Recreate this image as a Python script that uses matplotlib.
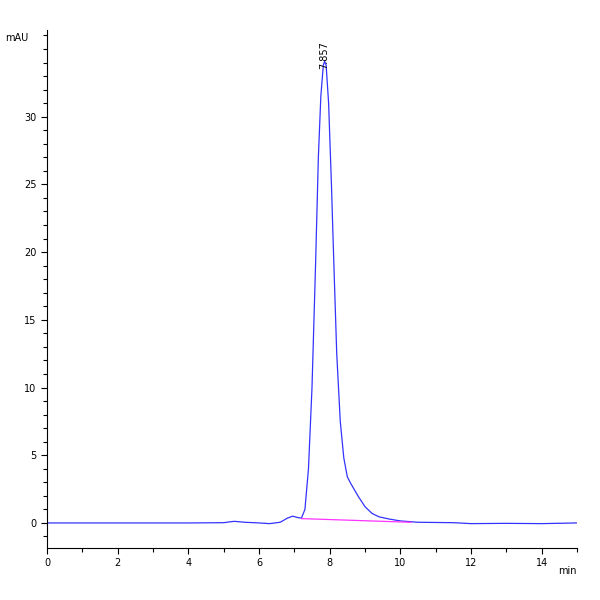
import matplotlib
matplotlib.use("Agg")
import matplotlib.pyplot as plt
from matplotlib.ticker import MultipleLocator

time = [0, 2, 4, 5.0, 5.3, 5.6, 6.0, 6.3, 6.6, 6.8, 6.95, 7.1, 7.2, 7.3, 7.4, 7.5, 7.6, 7.68, 7.75, 7.82, 7.857,
        7.9, 7.97, 8.05, 8.12, 8.2, 8.3, 8.4, 8.5, 8.6, 8.8, 9.0, 9.2, 9.4, 9.7, 10.0, 10.5, 11.5, 12, 13, 14, 15]
signal = [0, 0, 0, 0.02, 0.12, 0.05, 0.0, -0.05, 0.05, 0.35, 0.5, 0.4, 0.35, 1.0, 4, 10, 19, 27, 31.5, 33.8, 34.1,
          33.8, 31, 25, 19, 12.5, 7.5, 4.8, 3.4, 2.9, 2.0, 1.2, 0.7, 0.45, 0.28, 0.15, 0.05, 0.02, -0.05, -0.03, -0.05, 0]
base_t = [7.2, 10.3]
base_y = [0.32, 0.05]
peak_t, peak_y = 7.857, 34.1

fig = plt.figure(figsize=(6, 6), dpi=100)
ax = fig.add_axes([47/600, 1-548/600, 530/600, 518/600])
ax.plot(time, signal, color="#3333ff", lw=0.9)
ax.plot(base_t, base_y, color="#ff33ff", lw=0.9)
ax.text(peak_t, peak_y - 0.6, "7.857", rotation=90, ha="center", va="bottom", fontsize=7)
ax.set_xlim(0, 15)
ax.set_ylim(-1.85, 36.4)
for s in ["top", "right"]:
    ax.spines[s].set_visible(False)
ax.xaxis.set_major_locator(MultipleLocator(2))
ax.xaxis.set_minor_locator(MultipleLocator(1))
ax.yaxis.set_major_locator(MultipleLocator(5))
ax.yaxis.set_minor_locator(MultipleLocator(1))
ax.tick_params(labelsize=7, length=4, width=0.8)
ax.tick_params(which="minor", length=3, width=0.8)
ax.set_yticks([0, 5, 10, 15, 20, 25, 30])
ax.text(-0.035, 0.985, "mAU", transform=ax.transAxes, ha="right", va="center", fontsize=7)
ax.text(1.0, -0.035, "min", transform=ax.transAxes, ha="right", va="top", fontsize=7)
fig.savefig("out.png")
